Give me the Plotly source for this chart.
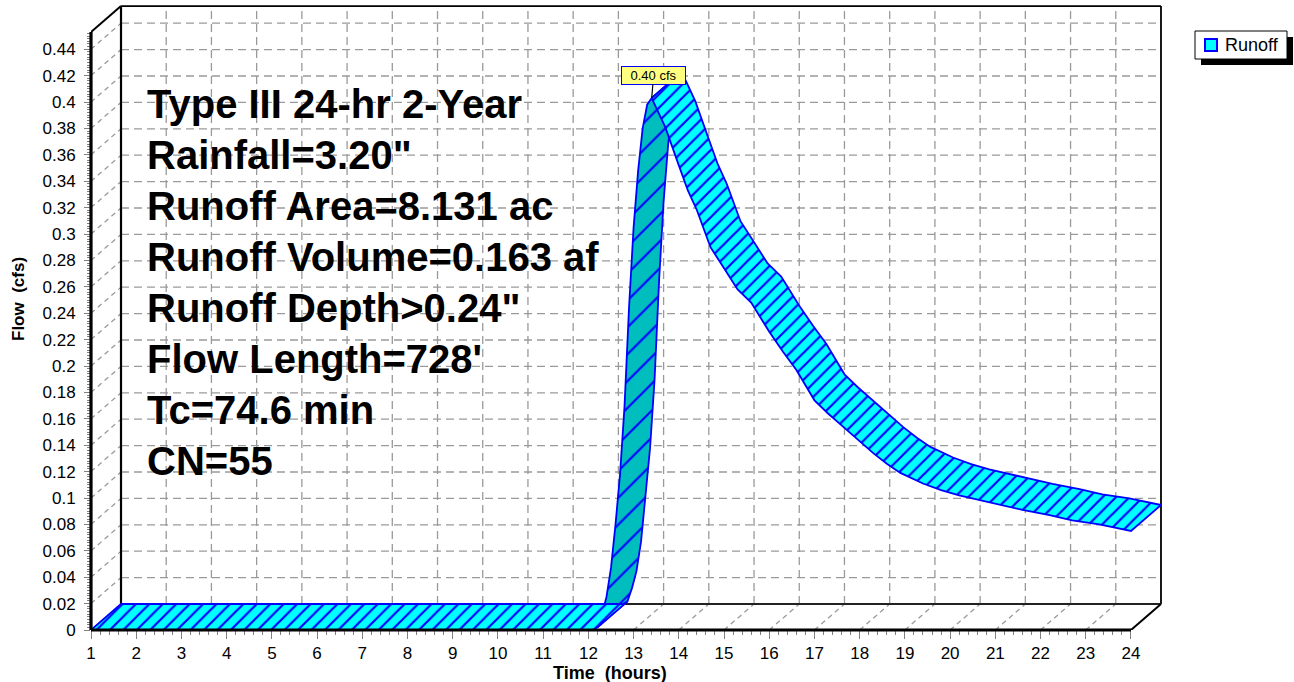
import plotly.graph_objects as go

# ---------------- data ----------------
series_name = "Runoff"
time_hr = [1.0, 12.1, 12.2, 12.3, 12.4, 12.5, 12.6, 12.7, 12.8, 12.9, 13.0, 13.1, 13.2,
           13.3, 13.4, 13.7, 14.0, 14.2, 14.4, 14.7, 15.0, 15.3, 15.6, 16.0, 16.3, 16.6,
           17.0, 17.3, 17.6, 18.0, 18.3, 18.6, 18.9, 19.4, 19.8, 20.2, 20.7, 21.2, 21.6,
           22.2, 22.7, 23.3, 24.0]
flow_cfs = [0.0, 0.0, 0.002, 0.012, 0.025, 0.047, 0.080, 0.118, 0.170, 0.245, 0.305, 0.348, 0.380,
            0.398, 0.403, 0.381, 0.352, 0.333, 0.318, 0.290, 0.274, 0.258, 0.248, 0.226, 0.211, 0.197,
            0.174, 0.164, 0.155, 0.143, 0.134, 0.126, 0.119, 0.111, 0.106, 0.102, 0.098, 0.094, 0.091,
            0.087, 0.083, 0.080, 0.075]

x_tick_vals = list(range(1, 25))
x_tick_text = [str(v) for v in x_tick_vals]
y_tick_vals = [round(0.02 * k, 2) for k in range(23)]
y_tick_text = ["0", "0.02", "0.04", "0.06", "0.08", "0.1", "0.12", "0.14", "0.16", "0.18",
               "0.2", "0.22", "0.24", "0.26", "0.28", "0.3", "0.32", "0.34", "0.36", "0.38",
               "0.4", "0.42", "0.44"]

info_lines = ["Type III 24-hr 2-Year", "Rainfall=3.20\"", "Runoff Area=8.131 ac",
              "Runoff Volume=0.163 af", "Runoff Depth>0.24\"", "Flow Length=728'",
              "Tc=74.6 min", "CN=55"]

x_title = "Time\u00a0 (hours)"
y_title = "Flow\u00a0 (cfs)"

# ---------------- geometry / style ----------------
W, H = 1294, 682
L, R, T, B = 91, 131, 4, 52
PW, PH = W - L - R, H - T - B
PX_PER_HR = 45.217
PX_PER_CFS = 1320.0
X0 = 1.0
X1 = X0 + PW / PX_PER_HR
Y0 = 0.0
Y1 = PH / PX_PER_CFS
DX = 30 / PX_PER_HR          # depth offset (hours)
DY = 26 / PX_PER_CFS         # depth offset (cfs)
Y_TOP = 0.453                # top of front axis
X_END = 24.0

FONT = "Liberation Sans, Arial, sans-serif"
CYAN = "#00FFFF"
DARK = "#00BEBE"
BLUE = "#0000FF"
GRID = "#9a9a9a"


def px_to_paper_x(px):
    return (px - L) / PW


def px_to_paper_y(py):
    return (H - B - py) / PH


fig = go.Figure()

# ---------------- ribbon faces ----------------
n = len(time_hr)
depth_slope = 26 / 30
groups = []
for i in range(n - 1):
    s = ((flow_cfs[i + 1] - flow_cfs[i]) * PX_PER_CFS) / ((time_hr[i + 1] - time_hr[i]) * PX_PER_HR)
    dark = s > depth_slope
    if groups and groups[-1][2] == dark and groups[-1][1] == i:
        groups[-1][1] = i + 1
    else:
        groups.append([i, i + 1, dark])


def face(i0, i1, dark):
    xs = time_hr[i0:i1 + 1] + [t + DX for t in time_hr[i0:i1 + 1][::-1]]
    ys = flow_cfs[i0:i1 + 1] + [q + DY for q in flow_cfs[i0:i1 + 1][::-1]]
    xs.append(xs[0])
    ys.append(ys[0])
    if dark:
        pat = dict(shape="/", bgcolor=DARK, fgcolor=BLUE, size=19, solidity=0.11, fillmode="replace")
        fc = DARK
    else:
        pat = dict(shape="/", bgcolor=CYAN, fgcolor=BLUE, size=9.5, solidity=0.23, fillmode="replace")
        fc = CYAN
    return go.Scatter(x=xs, y=ys, mode="lines", fill="toself", fillcolor=fc, fillpattern=pat,
                      line=dict(color=BLUE, width=1.8), hoverinfo="skip", showlegend=False)


for g in groups:
    if g[2]:
        fig.add_trace(face(*g))
for g in groups:
    if not g[2]:
        fig.add_trace(face(*g))

# ---------------- back plane, walls and grid ----------------
shapes = []
dash = "8px,5px"
for v in y_tick_vals[1:]:
    shapes.append(dict(type="line", xref="x", yref="y", x0=X0 + DX, x1=X_END + DX, y0=v + DY, y1=v + DY,
                       line=dict(color=GRID, width=1.3, dash=dash), layer="below"))
    shapes.append(dict(type="line", xref="x", yref="y", x0=X0, x1=X0 + DX, y0=v, y1=v + DY,
                       line=dict(color=GRID, width=1.3, dash="5px,4px"), layer="below"))
for h in x_tick_vals[1:-1]:
    shapes.append(dict(type="line", xref="x", yref="y", x0=h + DX, x1=h + DX, y0=DY, y1=Y_TOP + DY,
                       line=dict(color=GRID, width=1.3, dash=dash), layer="below"))
    shapes.append(dict(type="line", xref="x", yref="y", x0=h, x1=h + DX, y0=0, y1=DY,
                       line=dict(color=GRID, width=1.3, dash="5px,4px"), layer="below"))
# back plane borders
shapes += [
    dict(type="line", xref="x", yref="y", x0=X0 + DX, x1=X0 + DX, y0=DY, y1=Y_TOP + DY,
         line=dict(color="black", width=2.2), layer="below"),
    dict(type="line", xref="x", yref="y", x0=X0 + DX, x1=X_END + DX, y0=Y_TOP + DY, y1=Y_TOP + DY,
         line=dict(color="black", width=1.8), layer="below"),
    dict(type="line", xref="x", yref="y", x0=X_END + DX, x1=X_END + DX, y0=DY, y1=Y_TOP + DY,
         line=dict(color="black", width=1.8), layer="below"),
    dict(type="line", xref="x", yref="y", x0=X0 + DX, x1=X_END + DX, y0=DY, y1=DY,
         line=dict(color="#222222", width=1.8), layer="below"),
    dict(type="line", xref="x", yref="y", x0=X0, x1=X0 + DX, y0=Y_TOP, y1=Y_TOP + DY,
         line=dict(color="black", width=2), layer="below"),
    dict(type="line", xref="x", yref="y", x0=X_END, x1=X_END + DX, y0=0, y1=DY,
         line=dict(color="black", width=2), layer="below"),
]
# front axes (thick)
shapes += [
    dict(type="line", xref="paper", yref="paper", x0=0, x1=0, y0=0, y1=(Y_TOP - Y0) / (Y1 - Y0),
         line=dict(color="black", width=3.2), layer="above"),
    dict(type="line", xref="paper", yref="paper", x0=0, x1=(X_END - X0) / (X1 - X0), y0=0, y1=0,
         line=dict(color="black", width=3.2), layer="above"),
]

# legend (manual, with shadow)
lx0, lx1, ly0, ly1 = 1195, 1287, 31, 59
shapes += [
    dict(type="rect", xref="paper", yref="paper", x0=px_to_paper_x(lx0 + 6), x1=px_to_paper_x(lx1 + 6),
         y0=px_to_paper_y(ly1 + 6), y1=px_to_paper_y(ly0 + 6), fillcolor="black", line=dict(width=0)),
    dict(type="rect", xref="paper", yref="paper", x0=px_to_paper_x(lx0), x1=px_to_paper_x(lx1),
         y0=px_to_paper_y(ly1), y1=px_to_paper_y(ly0), fillcolor="white", line=dict(color="black", width=1)),
    dict(type="rect", xref="paper", yref="paper", x0=px_to_paper_x(1205), x1=px_to_paper_x(1217),
         y0=px_to_paper_y(51), y1=px_to_paper_y(39), fillcolor=CYAN, line=dict(color=BLUE, width=2)),
]

annotations = []
annotations.append(dict(xref="paper", yref="paper", x=px_to_paper_x(1223), y=px_to_paper_y(45),
                        xanchor="left", yanchor="middle", text=series_name, showarrow=False,
                        font=dict(family=FONT, size=18, color="black")))

# info text block
for k, line in enumerate(info_lines):
    annotations.append(dict(xref="paper", yref="paper", x=px_to_paper_x(145), y=px_to_paper_y(104 + 51 * k),
                            xanchor="left", yanchor="middle", text=line, showarrow=False,
                            font=dict(family=FONT, size=40, color="black", weight="bold")))

# peak label
ipk = max(range(n), key=lambda i: flow_cfs[i])
annotations.append(dict(xref="x", yref="y", x=time_hr[ipk], y=flow_cfs[ipk],
                        text=f"{flow_cfs[ipk]:.2f} cfs", showarrow=True, arrowhead=0, arrowwidth=1.2,
                        arrowcolor="black", ax=2, ay=-23, bgcolor="#FFFF80", bordercolor=BLUE,
                        borderwidth=1, borderpad=1, width=61, height=15,
                        font=dict(family=FONT, size=13, color="black")))

# axis titles
annotations.append(dict(xref="paper", yref="paper", x=px_to_paper_x(610), y=px_to_paper_y(673),
                        text=x_title, showarrow=False, xanchor="center", yanchor="middle",
                        font=dict(family=FONT, size=18, color="black", weight="bold")))
annotations.append(dict(xref="paper", yref="paper", x=px_to_paper_x(18), y=px_to_paper_y(299),
                        text=y_title, showarrow=False, textangle=-90, xanchor="center", yanchor="middle",
                        font=dict(family=FONT, size=17, color="black", weight="bold")))

minor_x = [round(1 + 0.2 * k, 1) for k in range(0, 116)]
minor_y = [round(0.002 * k, 3) for k in range(0, 227)]

fig.update_layout(
    width=W, height=H,
    margin=dict(l=L, r=R, t=T, b=B, pad=0),
    paper_bgcolor="white", plot_bgcolor="white",
    showlegend=False,
    shapes=shapes, annotations=annotations,
    xaxis=dict(range=[X0, X1], showgrid=False, zeroline=False, showline=False,
               tickmode="array", tickvals=x_tick_vals, ticktext=x_tick_text,
               ticks="outside", ticklen=8, tickwidth=1.3, tickcolor="#808080",
               tickfont=dict(family=FONT, size=17, color="black"), ticklabelstandoff=0,
               minor=dict(tickmode="array", tickvals=minor_x, ticks="outside", ticklen=4,
                          tickwidth=1.2, tickcolor="#808080", showgrid=False)),
    yaxis=dict(range=[Y0, Y1], showgrid=False, zeroline=False, showline=False,
               tickmode="array", tickvals=y_tick_vals, ticktext=y_tick_text,
               ticks="outside", ticklen=6, tickwidth=1.3, tickcolor="#808080",
               tickfont=dict(family=FONT, size=17, color="black"), ticklabelstandoff=5,
               minor=dict(tickmode="array", tickvals=minor_y, ticks="outside", ticklen=3,
                          tickwidth=1.1, tickcolor="#808080", showgrid=False)),
)

fig.write_html("out.html", config={"displayModeBar": False},
               post_script="document.body.style.margin='0px';document.body.style.overflow='hidden';")
